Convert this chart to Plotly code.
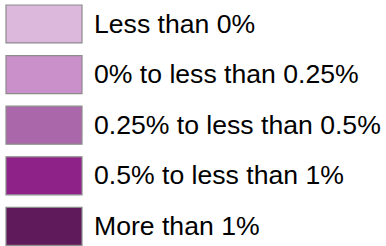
import plotly.graph_objects as go

labels = [
    "Less than 0%",
    "0% to less than 0.25%",
    "0.25% to less than 0.5%",
    "0.5% to less than 1%",
    "More than 1%",
]
colors = ["#dcb9dc", "#c990c9", "#aa68aa", "#8e2288", "#5e1a5b"]

rows = list(range(len(labels)))
swatch_len = [76] * len(labels)
text_nudge = 0.04  # small vertical nudge (axis units) to align text baseline

fig = go.Figure()
fig.add_trace(go.Bar(
    y=rows,
    x=swatch_len,
    base=6,
    orientation="h",
    width=0.75,
    marker=dict(color=colors, line=dict(color="#8c8c8c", width=1.2)),
    hoverinfo="skip",
    showlegend=False,
))
fig.add_trace(go.Scatter(
    y=[r + text_nudge for r in rows],
    x=[94] * len(labels),
    mode="text",
    text=labels,
    textposition="middle right",
    textfont=dict(family="Liberation Sans, Arial, sans-serif", size=26.6, color="#000000"),
    hoverinfo="skip",
    showlegend=False,
    cliponaxis=False,
))
fig.update_layout(
    width=386, height=246,
    margin=dict(l=0, r=0, t=0, b=0),
    paper_bgcolor="white", plot_bgcolor="white",
    xaxis=dict(range=[0, 386], visible=False, fixedrange=True),
    yaxis=dict(range=[4.387, -0.474], visible=False, fixedrange=True),
)
fig.write_html("out.html", config={"displayModeBar": False},
               post_script="document.body.style.margin='0';document.body.style.overflow='hidden';")
